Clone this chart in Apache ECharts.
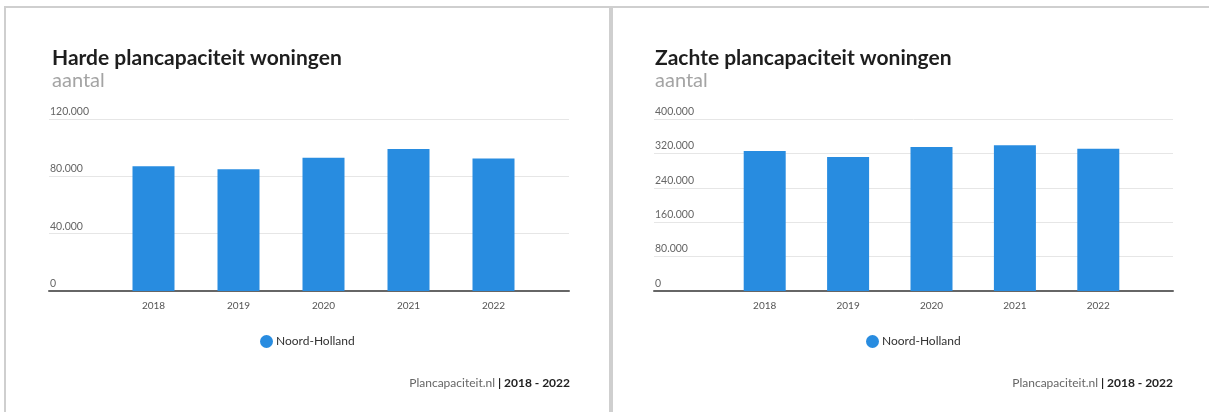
<!DOCTYPE html>
<html>
<head>
<meta charset="utf-8">
<script src="https://cdn.jsdelivr.net/npm/echarts@6/dist/echarts.min.js"></script>
<style>
html,body{margin:0;padding:0;background:#fff;}
#c{width:1209px;height:412px;}
</style>
</head>
<body>
<div id="c"></div>
<script>
const years = ['2018', '2019', '2020', '2021', '2022'];
const hardeValues = [87000, 85000, 93000, 99000, 92500];
const zachteValues = [325500, 311500, 335000, 339000, 331000];
const hardeTicks = {min: 0, max: 120000, interval: 40000};
const zachteTicks = {min: 0, max: 400000, interval: 80000};
const seriesName = 'Noord-Holland';
const titles = ['Harde plancapaciteit woningen', 'Zachte plancapaciteit woningen'];
const subtitle = 'aantal';
const sourceText = 'Plancapaciteit.nl';
const periodText = '2018 - 2022';

const FONT = 'Lato, "Open Sans", sans-serif';
const BLUE = '#288ce0';

function fmt(v) {
  return String(v).replace(/\B(?=(\d{3})+(?!\d))/g, '.');
}

const chart = echarts.init(document.getElementById('c'), null, {renderer: 'canvas'});

const panels = [
  {titleLeft: 52, gridLeft: 49, gridWidth: 520, barLeft: 111, barWidth: 425, ticks: hardeTicks, values: hardeValues, footRight: 1209 - 570, legendLeft: 260},
  {titleLeft: 655, gridLeft: 654, gridWidth: 519, barLeft: 723, barWidth: 417, ticks: zachteTicks, values: zachteValues, footRight: 1209 - 1173, legendLeft: 866}
];

const grids = [], xAxes = [], yAxes = [], series = [], title = [], legend = [];
panels.forEach((p, i) => {
  const gTop = 119, gH = 172;
  grids.push({left: p.gridLeft, width: p.gridWidth, top: gTop, height: gH});
  grids.push({left: p.barLeft, width: p.barWidth, top: gTop, height: gH});
  const g0 = i * 2, g1 = i * 2 + 1;
  xAxes.push({
    type: 'value', gridIndex: g0, min: 0, max: 1,
    axisLine: {show: true, lineStyle: {color: '#666', width: 2}},
    axisTick: {show: false}, axisLabel: {show: false}, splitLine: {show: false}
  });
  xAxes.push({
    type: 'category', gridIndex: g1, data: years,
    axisLine: {show: false}, axisTick: {show: false},
    axisLabel: {color: '#555', fontSize: 10, fontFamily: FONT, margin: 10}
  });
  yAxes.push({
    type: 'value', gridIndex: g0, min: p.ticks.min, max: p.ticks.max, interval: p.ticks.interval,
    axisLine: {show: false}, axisTick: {show: false},
    splitLine: {lineStyle: {color: '#e6e6e6', width: 1}},
    axisLabel: {inside: true, margin: 1, verticalAlign: 'bottom', padding: [0, 0, 2, 0],
      color: '#666', fontSize: 10.5, fontFamily: FONT, formatter: fmt}
  });
  yAxes.push({
    type: 'value', gridIndex: g1, min: p.ticks.min, max: p.ticks.max, interval: p.ticks.interval,
    show: false
  });
  series.push({
    name: seriesName, type: 'bar', xAxisIndex: g1, yAxisIndex: g1,
    data: p.values, barWidth: 42,
    itemStyle: {color: BLUE}
  });
  title.push({
    text: titles[i], left: p.titleLeft, top: 48, padding: 0,
    textStyle: {fontFamily: FONT, fontWeight: 'bold', fontSize: 21, color: '#1e1e1e'}
  });
  title.push({
    text: subtitle, left: p.titleLeft, top: 71, padding: 0,
    textStyle: {fontFamily: FONT, fontWeight: 'normal', fontSize: 20, color: '#a4a4a4'}
  });
  title.push({
    text: '{a|' + sourceText + '}{b| | ' + periodText + '}', right: p.footRight, top: 377, padding: 0,
    textStyle: {rich: {
      a: {fontFamily: FONT, fontSize: 12, color: '#666', fontWeight: 'normal'},
      b: {fontFamily: FONT, fontSize: 12, color: '#222', fontWeight: 'bold'}
    }}
  });
  legend.push({
    left: p.legendLeft, top: 335, padding: 0, data: [seriesName], icon: 'circle',
    itemWidth: 13, itemHeight: 13, itemGap: 4,
    textStyle: {fontFamily: FONT, fontSize: 12, color: '#333', padding: [0, 0, 0, -2]},
    selectedMode: false
  });
});

chart.setOption({
  animation: false,
  title: title,
  legend: legend,
  grid: grids,
  xAxis: xAxes,
  yAxis: yAxes,
  series: series,
  graphic: [
    {type: 'rect', shape: {x: 5, y: 7, width: 605, height: 420}, style: {fill: 'none', stroke: '#cfcfcf', lineWidth: 2}, silent: true},
    {type: 'rect', shape: {x: 612, y: 7, width: 600, height: 420}, style: {fill: 'none', stroke: '#cfcfcf', lineWidth: 2}, silent: true}
  ]
});
</script>
</body>
</html>
